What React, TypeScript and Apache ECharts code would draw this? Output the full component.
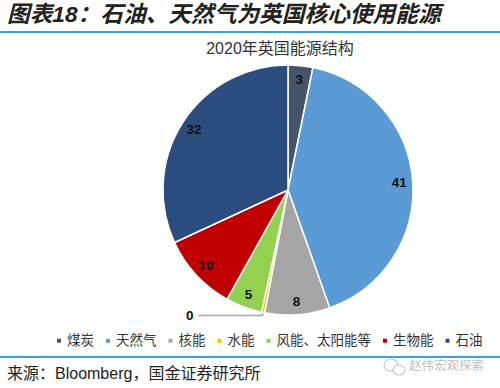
import React, { useEffect, useRef } from "react";
import * as echarts from "echarts";

const categories = ["煤炭", "天然气", "核能", "水能", "风能、太阳能等", "生物能", "石油"];
const values = [3.2, 41.4, 8.4, 0.4, 4.7, 10.0, 31.9];
const colors = ["#44546A", "#5B9BD5", "#A5A5A5", "#FFC000", "#92D050", "#C00000", "#2B4C7E"];

const titleText = "图表18：石油、天然气为英国核心使用能源";
const subTitle = "2020年英国能源结构";
const sourceText = "来源：Bloomberg，国金证券研究所";
const watermark = "赵伟宏观探索";

const CJK = "'Liberation Sans', 'Noto Sans CJK SC', sans-serif";

export default function App() {
  const ref = useRef<HTMLDivElement>(null);
  useEffect(() => {
    if (!ref.current) return;
    const chart = echarts.init(ref.current, null, { renderer: "svg" });
    const fmt = (p: any) => String(Math.round(p.value));
    const labelStyle = { color: "#111", fontSize: 13.5, fontWeight: "bold", fontFamily: CJK };
    const mainData = categories.map((name, i) => ({
      name,
      value: values[i],
      itemStyle: { color: colors[i] },
      label: i === 3
        ? { show: true, position: "outside", formatter: fmt, ...labelStyle }
        : { show: false },
      labelLine: i === 3
        ? { show: true, length: 3, length2: 64, lineStyle: { color: "#A6A6A6", width: 1.5 } }
        : { show: false },
    }));
    const overlayData = categories.map((name, i) => ({
      name,
      value: values[i],
      label: { show: i !== 3 },
    }));
    chart.setOption({
      animation: false,
      color: colors,
      legend: {
        data: categories,
        left: 50,
        top: 329,
        width: 470,
        icon: "rect",
        itemWidth: 6,
        itemHeight: 6,
        itemGap: 10,
        selectedMode: false,
        textStyle: { fontSize: 13.5, color: "#333", fontFamily: CJK },
      },
      series: [
        {
          type: "pie",
          center: [288, 190],
          radius: [0, 125],
          startAngle: 90,
          clockwise: true,
          avoidLabelOverlap: false,
          silent: true,
          itemStyle: { borderColor: "#fff", borderWidth: 1.5 },
          data: mainData,
        },
        {
          type: "pie",
          center: [288, 190],
          radius: [92, 125],
          startAngle: 90,
          clockwise: true,
          avoidLabelOverlap: false,
          silent: true,
          itemStyle: { color: "rgba(0,0,0,0)", borderWidth: 0 },
          label: { show: true, position: "inside", formatter: fmt, ...labelStyle },
          labelLine: { show: false },
          data: overlayData,
        },
      ],
      graphic: [
        {
          type: "text",
          left: 7,
          top: 3,
          style: {
            text: titleText,
            fontSize: 22.7,
            fontWeight: "bold",
            fontStyle: "italic",
            fill: "#222",
            fontFamily: CJK,
          },
        },
        {
          type: "rect",
          shape: { x: 0, y: 31, width: 500, height: 2 },
          style: { fill: "#3BA3DC" },
        },
        {
          type: "text",
          x: 280,
          y: 48,
          style: {
            text: subTitle,
            fontSize: 16,
            fill: "#333",
            align: "center",
            verticalAlign: "middle",
            fontFamily: CJK,
          },
        },
        {
          type: "rect",
          shape: { x: 0, y: 356, width: 500, height: 2 },
          style: { fill: "#3BA3DC" },
        },
        {
          type: "text",
          x: 7,
          y: 373,
          style: {
            text: sourceText,
            fontSize: 16,
            fill: "#222",
            verticalAlign: "middle",
            fontFamily: CJK,
          },
        },
        {
          type: "ellipse",
          shape: { cx: 391, cy: 365, rx: 7, ry: 6 },
          style: { fill: "none", stroke: "#C8C8C8", lineWidth: 1.2 },
        },
        {
          type: "ellipse",
          shape: { cx: 399, cy: 370, rx: 6, ry: 5 },
          style: { fill: "#fff", stroke: "#C8C8C8", lineWidth: 1.2 },
        },
        {
          type: "text",
          x: 409,
          y: 366,
          style: {
            text: watermark,
            fontSize: 12.5,
            fill: "#C0C0C0",
            verticalAlign: "middle",
            fontFamily: CJK,
          },
        },
      ],
    });
    return () => chart.dispose();
  }, []);
  return (
    <div
      ref={ref}
      style={{ position: "fixed", left: 0, top: 0, width: 500, height: 388, background: "#fff" }}
    />
  );
}
